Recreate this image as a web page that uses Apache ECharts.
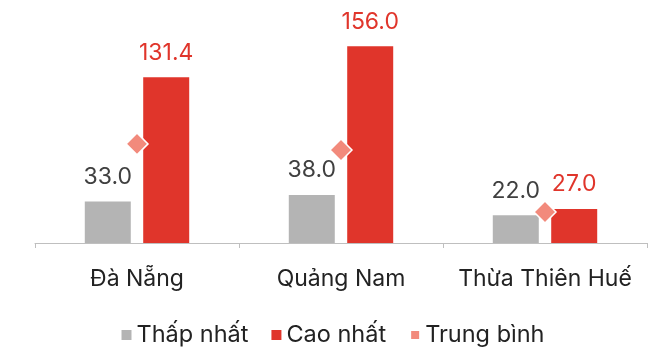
<!DOCTYPE html>
<html>
<head>
<meta charset="utf-8">
<script src="https://cdn.jsdelivr.net/npm/echarts@6/dist/echarts.min.js"></script>
<style>
html,body{margin:0;padding:0;background:#fff;}
#c{width:666px;height:348px;}
</style>
</head>
<body>
<div id="c"></div>
<script>
var categories = ['Đà Nẵng', 'Quảng Nam', 'Thừa Thiên Huế'];
var lowValues = [33.0, 38.0, 22.0];
var highValues = [131.4, 156.0, 27.0];
var avgValues = [78.6, 73.8, 24.6];
var seriesNames = ['Thấp nhất', 'Cao nhất', 'Trung bình'];

var FONT = 'Inter';
var chart = echarts.init(document.getElementById('c'), null, {renderer: 'canvas'});
chart.setOption({
  animation: false,
  backgroundColor: '#ffffff',
  textStyle: {fontFamily: FONT},
  grid: {left: 35, right: 19, top: 16, bottom: 105, containLabel: false},
  legend: {
    data: seriesNames.map(function (n) { return {name: n, icon: 'rect'}; }),
    top: 318,
    left: 'center',
    itemWidth: 10,
    itemHeight: 10,
    itemGap: 23,
    textStyle: {fontFamily: FONT, fontSize: 23.5, color: '#222222'}
  },
  xAxis: {
    type: 'category',
    data: categories,
    axisLine: {lineStyle: {color: '#bfbfbf', width: 1}},
    axisTick: {show: true, length: 5, lineStyle: {color: '#bfbfbf'}},
    axisLabel: {fontFamily: FONT, fontSize: 23, color: '#222222', margin: 25, interval: 0, hideOverlap: false}
  },
  yAxis: {
    type: 'value',
    min: 0,
    max: 180,
    show: false,
    splitLine: {show: false}
  },
  series: [
    {
      name: seriesNames[0],
      type: 'bar',
      data: lowValues,
      barWidth: 46,
      barGap: '27%',
      itemStyle: {color: '#b4b4b4'},
      label: {show: true, position: 'top', distance: 13, fontFamily: FONT, fontSize: 23, color: '#404040',
        formatter: function (p) { return p.value.toFixed(1); }}
    },
    {
      name: seriesNames[1],
      type: 'bar',
      data: highValues,
      barWidth: 46,
      itemStyle: {color: '#e0352b'},
      label: {show: true, position: 'top', distance: 13, fontFamily: FONT, fontSize: 23, color: '#e0352b',
        formatter: function (p) { return p.value.toFixed(1); }}
    },
    {
      name: seriesNames[2],
      type: 'scatter',
      data: avgValues,
      symbol: 'diamond',
      symbolSize: [22, 22],
      itemStyle: {color: '#f28a7c', opacity: 1, borderColor: '#ffffff', borderWidth: 1.5},
      z: 5
    }
  ]
});
</script>
</body>
</html>
